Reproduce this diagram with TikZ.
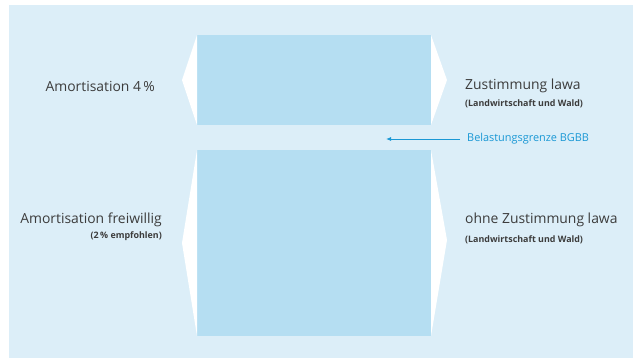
\documentclass[tikz,border=0pt]{standalone}
\usepackage{fontspec}
\usetikzlibrary{arrows.meta}
\setmainfont{Open Sans}
\definecolor{bgblue}{HTML}{DCEEF8}
\definecolor{boxblue}{HTML}{B5DEF2}
\definecolor{txtgray}{HTML}{3C3C3C}
\definecolor{linkblue}{HTML}{1A98D5}
\begin{document}
\begin{tikzpicture}[x=1pt,y=-1pt,
  bar/.style={fill=boxblue,draw=none,inner sep=0pt,outer sep=0pt},
  wedge/.style={fill=white,draw=none},
  mainlabel/.style={text=txtgray,font=\fontsize{13.9}{16}\selectfont,inner sep=0pt},
  sublabel/.style={text=txtgray,font=\fontsize{8.9}{10}\selectfont\bfseries,inner sep=0pt},
  bluelabel/.style={text=linkblue,font=\fontsize{10.9}{13}\selectfont,inner sep=0pt},
  pointer/.style={draw=linkblue,line width=0.8pt,-{Latex[length=5pt,width=4pt]}}]
\useasboundingbox (0,0) rectangle (633,360);
\fill[bgblue] (9,5) rectangle (633,358);
% bars
\node[bar,minimum width=234pt,minimum height=90pt,anchor=north west] (top) at (197,35) {};
\node[bar,minimum width=234pt,minimum height=186pt,anchor=north west] (bot) at (197,150) {};
% wedges
\fill[wedge] (top.north west) -- (182,80) -- (top.south west) -- cycle;
\fill[wedge] (top.north east) -- (447,80) -- (top.south east) -- cycle;
\fill[wedge] (bot.north west) -- (182,243) -- (bot.south west) -- cycle;
\fill[wedge] (bot.north east) -- (447,240) -- (bot.south east) -- cycle;
% left labels
\node[mainlabel,anchor=base east] (a4) at (155,91) {Amortisation 4\,\%};
\node[mainlabel,anchor=base east] (af) at (162,223) {Amortisation freiwillig};
\node[sublabel,anchor=base east] (afs) at (162,238) {(2\,\% empfohlen)};
% right labels
\node[mainlabel,anchor=base west] (zl) at (465,89) {Zustimmung lawa};
\node[sublabel,anchor=base west] (zls) at (465,106) {(Landwirtschaft und Wald)};
\node[mainlabel,anchor=base west] (ozl) at (465,223) {ohne Zustimmung lawa};
\node[sublabel,anchor=base west] (ozls) at (465,242) {(Landwirtschaft und Wald)};
% pointer
\node[bluelabel,anchor=west] (bg) at (467,139) {Belastungsgrenze BGBB};
\coordinate (tip) at (386,139);
\draw[pointer] ([xshift=-7pt]bg.west) -- (tip);
\end{tikzpicture}
\end{document}
